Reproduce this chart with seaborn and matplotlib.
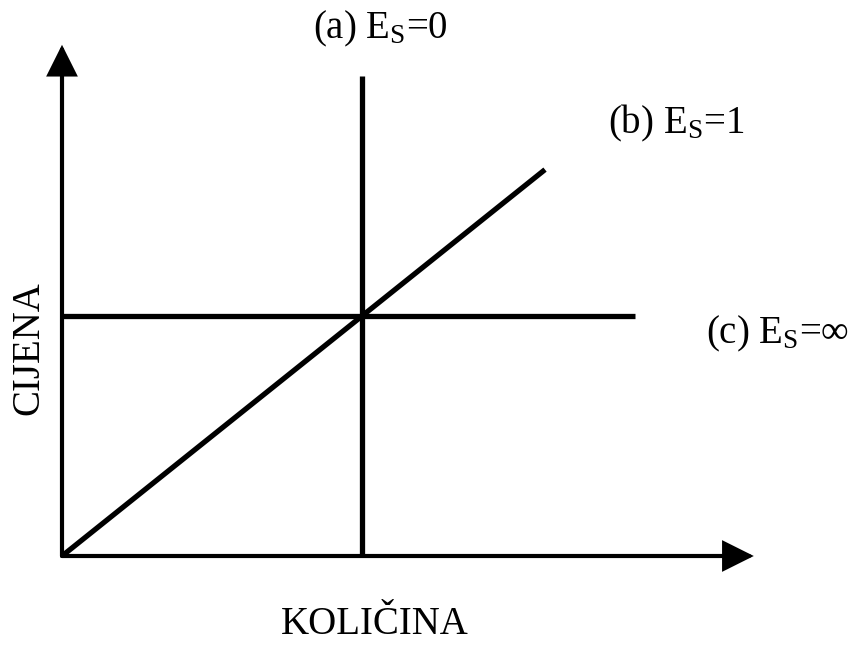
import matplotlib
matplotlib.use("Agg")
import matplotlib.pyplot as plt
import seaborn as sns
import pandas as pd

# Data (quantity, price) for the three supply curves
qty_a = [5, 5]          # (a) perfectly inelastic, Es = 0
price_a = [0, 10]
qty_b = [0, 8.05]       # (b) unit elastic, Es = 1
price_b = [0, 8.05]
qty_c = [0, 9.55]       # (c) perfectly elastic, Es = inf
price_c = [5, 5]

x_axis_end = 11.53
y_axis_end = 10.65

label_a = r"(a) E$_{\mathrm{S}}$=0"
label_b = r"(b) E$_{\mathrm{S}}$=1"
label_c = r"(c) E$_{\mathrm{S}}$=∞"
xlabel = "KOLIČINA"
ylabel = "CIJENA"

sns.set_style("white")
plt.rcParams["font.family"] = ["Liberation Serif", "DejaVu Serif"]
plt.rcParams["mathtext.fontset"] = "custom"
plt.rcParams["mathtext.rm"] = "Liberation Serif"
plt.rcParams["mathtext.it"] = "Liberation Serif:italic"
plt.rcParams["text.color"] = "black"

fig = plt.figure(figsize=(8.58, 6.45), dpi=100)
ax = fig.add_axes([0, 0, 1, 1])
ax.set_xlim(-62 / 60, (858 - 62) / 60)
ax.set_ylim((556 - 645) / 48, 556 / 48)
ax.axis("off")

lw_curve = 3.8
for q, p in [(qty_a, price_a), (qty_b, price_b), (qty_c, price_c)]:
    df = pd.DataFrame({"q": q, "p": p})
    sns.lineplot(data=df, x="q", y="p", estimator=None, sort=False,
                 color="black", linewidth=lw_curve, ax=ax,
                 solid_capstyle="butt")

arrow_kw = dict(arrowstyle="-|>", mutation_scale=45, lw=3, color="black",
                shrinkA=0, shrinkB=0, joinstyle="miter")
ax.annotate("", xy=(x_axis_end, 0), xytext=(0, 0), arrowprops=arrow_kw)
ax.annotate("", xy=(0, y_axis_end), xytext=(0, 0), arrowprops=arrow_kw)

fs = 28
fig.text(380 / 858, 1 - 38 / 645, label_a, ha="center", va="baseline", fontsize=fs)
fig.text(676 / 858, 1 - 133 / 645, label_b, ha="center", va="baseline", fontsize=fs)
fig.text(706 / 858, 1 - 343 / 645, label_c, ha="left", va="baseline", fontsize=fs)
fig.text(29 / 858, 1 - 348 / 645, ylabel, ha="center", va="center",
         rotation=90, fontsize=28)
fig.text(375 / 858, 1 - 634 / 645, xlabel, ha="center", va="baseline", fontsize=28)

fig.savefig("out.png", dpi=100)
